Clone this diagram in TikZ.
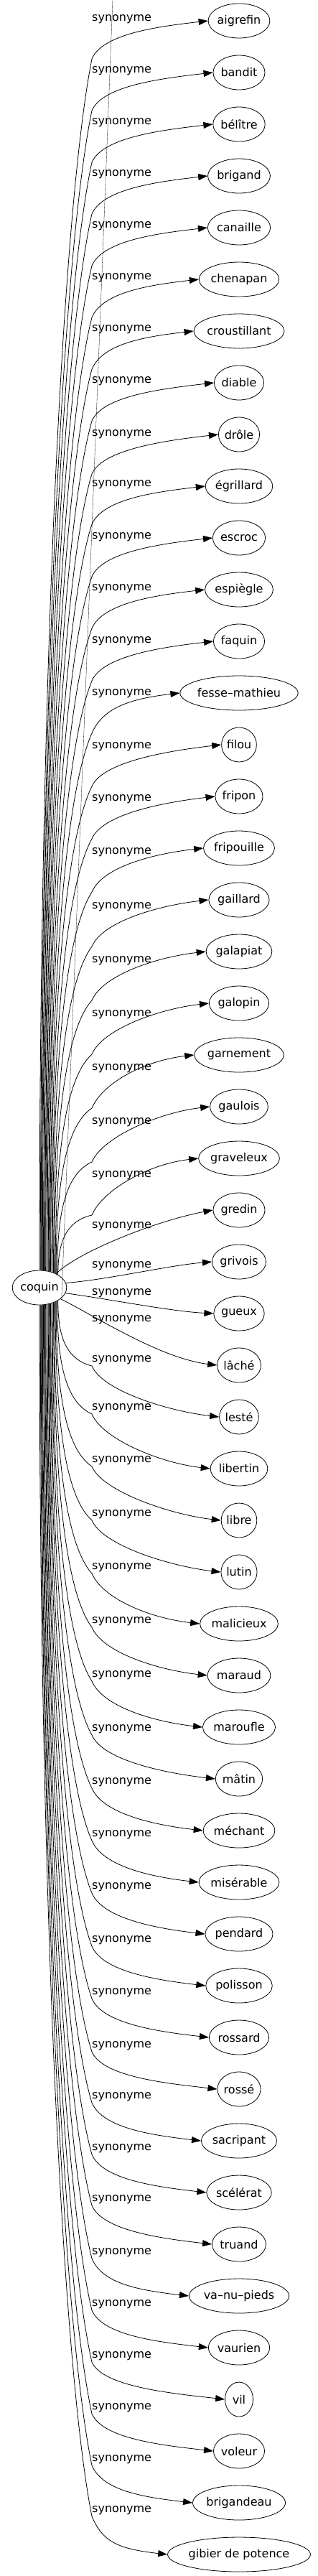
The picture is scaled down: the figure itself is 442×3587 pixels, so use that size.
\documentclass[tikz,border=0pt]{standalone}
\usepackage{fontspec}
\setmainfont{DejaVu Sans}
\usetikzlibrary{shapes.geometric,arrows.meta}
\newlength\wordwd
\newcommand\wfont{\fontsize{16}{19}\selectfont}

\begin{document}
\begin{tikzpicture}[
    x=1pt, y=1pt,
    word/.style={ellipse, draw=black, line width=0.8pt, inner sep=0pt, minimum height=48pt, font=\wfont},
    syn/.style={-{Triangle[length=13pt,width=9pt]}, line width=0.8pt},
    rel/.style={anchor=mid west, inner sep=0pt, font=\wfont},
    hair/.style={line width=0.3pt}
  ]
    \useasboundingbox (0,0) rectangle (442,-3587);
    % mot central
    \settowidth{\wordwd}{\wfont coquin}
    \node[word, minimum width={1.12*\wordwd+39}] (root) at (55,-1793) {coquin};
    % synonymes : mot / hauteur de l'etiquette
    \foreach \w/\ly [count=\i from 0] in {aigrefin/27, bandit/99, bélître/171, brigand/243,
        canaille/315, chenapan/387, croustillant/459, diable/531, drôle/605, égrillard/675,
        escroc/748, espiègle/820, faquin/893, fesse–mathieu/966, filou/1040, fripon/1113,
        fripouille/1187, gaillard/1263, galapiat/1338, galopin/1413, garnement/1488,
        gaulois/1563, graveleux/1637, gredin/1708, grivois/1763, gueux/1801, lâché/1838,
        lesté/1894, libertin/1961, libre/2034, lutin/2109, malicieux/2183, maraud/2258,
        maroufle/2333, mâtin/2408, méchant/2482, misérable/2555, pendard/2628,
        polisson/2702, rossard/2775, rossé/2849, sacripant/2920, scélérat/2992,
        truand/3063, va–nu–pieds/3137, vaurien/3209, vil/3281, voleur/3353,
        brigandeau/3425, gibier de potence/3496} {
      \settowidth{\wordwd}{\wfont \w}
      \node[word, minimum width={1.12*\wordwd+39}] (l\i) at (333,{-29-72*\i}) {\w};
      \node[rel] (s\i) at (128,-\ly) {synonyme};
      \ifnum\i<23
        % vers le haut
        \pgfmathtruncatemacro\ang{90-2.5*\i}
        \pgfmathsetmacro\by{\ly+55}
        \pgfmathsetmacro\dh{0.5*(1769-\by)}
        \pgfmathsetmacro\dv{0.12*(1769-\by)}
        \draw[syn] (root.\ang) .. controls +(0,\dh) and +(-40,-\dv) .. (128,-\by)
          .. controls +(15,35) and +(-70,-8) .. (l\i.west);
      \else\ifnum\i>26
        % vers le bas
        \pgfmathtruncatemacro\ang{-35-2.5*(\i-27)}
        \pgfmathsetmacro\by{\ly+8}
        \pgfmathsetmacro\dh{0.5*(\by-1817)}
        \pgfmathsetmacro\dv{0.12*(\by-1817)}
        \draw[syn] (root.\ang) .. controls +(0,-\dh) and +(-40,\dv) .. (128,-\by)
          .. controls +(15,-35) and +(-70,8) .. (l\i.west);
      \fi\fi
    }
    % aretes directes pres du centre
    \draw[syn] (root.40) .. controls +(30,30) and +(-80,-15) .. (l23.west);
    \draw[syn] (root.10) .. controls +(60,5) and +(-60,-5) .. (l24.west);
    \draw[syn] (root.-12) .. controls +(60,-8) and +(-60,3) .. (l25.west);
    \draw[syn] (root.-28) .. controls +(50,-25) and +(-80,10) .. (l26.west);
    % trait fin
    \coordinate (rim) at (157,0);
    \draw[hair] (root.-25) -- (rim);
\end{tikzpicture}
\end{document}
